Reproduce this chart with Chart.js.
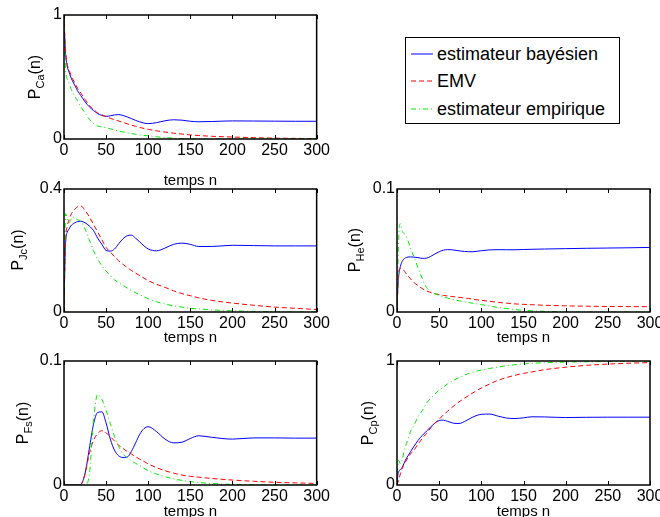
<!DOCTYPE html>
<html>
<head>
<meta charset="utf-8">
<script src="https://cdn.jsdelivr.net/npm/chart.js@4.4.0/dist/chart.umd.min.js"></script>
<style>
  html, body { margin: 0; padding: 0; background: #fff; }
  body { position: relative; width: 660px; height: 517px; overflow: hidden; font-family: "Liberation Sans", Arial, Helvetica, sans-serif; color: #000; }
  canvas { position: absolute; }
  .ylab { position: absolute; left: 0; top: 0; transform-origin: 0 0; white-space: nowrap; font-size: 16px; line-height: 16px; }
  .ylab sub { font-size: 11px; vertical-align: -4px; line-height: 0; }
  #legend { position: absolute; left: 405px; top: 37px; width: 215px; height: 87px; box-sizing: border-box; border: 1px solid #000; background: #fff; font-size: 18px; }
  #legend .row { position: absolute; left: 0; height: 20px; line-height: 20px; white-space: nowrap; }
  #legend svg { position: absolute; left: 5px; top: 9px; }
  #legend span { position: absolute; left: 31px; top: 0; }
</style>
</head>
<body>
<canvas id="ca"></canvas>
<canvas id="jc"></canvas>
<canvas id="he"></canvas>
<canvas id="fs"></canvas>
<canvas id="cp"></canvas>
<div id="legend"></div>
<script>
// temps n (shared x grid)
const nTemps = [0, 1, 2, 4, 6, 8, 10, 13, 16, 20, 25, 30, 35, 40, 45, 50, 55, 60, 65, 70, 75, 80, 85, 90, 95, 100, 110, 120, 130, 140, 150, 160, 175, 200, 225, 250, 275, 300];

const seriesNames = ["estimateur bayésien", "EMV", "estimateur empirique"];

// P_Ca(n)
const caBayes = [1, 0.80, 0.68, 0.58, 0.54, 0.50, 0.47, 0.43, 0.39, 0.35, 0.30, 0.26, 0.23, 0.205, 0.19, 0.183, 0.187, 0.194, 0.197, 0.19, 0.178, 0.165, 0.15, 0.138, 0.128, 0.124, 0.132, 0.147, 0.155, 0.152, 0.143, 0.139, 0.141, 0.146, 0.145, 0.144, 0.143, 0.143];
const caEmv = [1, 0.82, 0.70, 0.60, 0.56, 0.52, 0.49, 0.45, 0.41, 0.37, 0.32, 0.27, 0.24, 0.21, 0.195, 0.18, 0.167, 0.155, 0.145, 0.134, 0.123, 0.112, 0.102, 0.093, 0.085, 0.078, 0.066, 0.056, 0.047, 0.040, 0.033, 0.028, 0.022, 0.016, 0.011, 0.007, 0.005, 0.003];
const caEmp = [1, 0.70, 0.55, 0.48, 0.45, 0.41, 0.38, 0.34, 0.31, 0.26, 0.21, 0.16, 0.125, 0.105, 0.097, 0.09, 0.082, 0.073, 0.064, 0.057, 0.05, 0.044, 0.038, 0.033, 0.029, 0.025, 0.018, 0.012, 0.007, 0.004, 0.002, 0.001, 0, 0, 0, 0, 0, 0];

// P_Jc(n)
const jcBayes = [0, 0.15, 0.23, 0.26, 0.27, 0.28, 0.285, 0.29, 0.294, 0.295, 0.29, 0.28, 0.265, 0.24, 0.22, 0.20, 0.198, 0.205, 0.222, 0.238, 0.248, 0.25, 0.24, 0.228, 0.215, 0.205, 0.199, 0.208, 0.22, 0.224, 0.22, 0.213, 0.213, 0.217, 0.216, 0.215, 0.215, 0.215];
const jcEmv = [0, 0.15, 0.24, 0.28, 0.30, 0.315, 0.325, 0.335, 0.342, 0.345, 0.33, 0.31, 0.285, 0.26, 0.235, 0.21, 0.195, 0.18, 0.166, 0.155, 0.145, 0.135, 0.127, 0.118, 0.11, 0.102, 0.09, 0.08, 0.069, 0.06, 0.053, 0.046, 0.038, 0.029, 0.022, 0.016, 0.012, 0.008];
const jcEmp = [0, 0.22, 0.32, 0.30, 0.29, 0.30, 0.31, 0.305, 0.30, 0.295, 0.27, 0.235, 0.20, 0.172, 0.15, 0.133, 0.118, 0.105, 0.095, 0.087, 0.078, 0.07, 0.063, 0.056, 0.05, 0.043, 0.033, 0.026, 0.02, 0.016, 0.012, 0.01, 0.007, 0.004, 0.002, 0.001, 0, 0];

// P_He(n)
const heBayes = [0, 0.02, 0.029, 0.037, 0.041, 0.043, 0.044, 0.0447, 0.0448, 0.0446, 0.0442, 0.0436, 0.0438, 0.0452, 0.0472, 0.049, 0.0503, 0.0507, 0.0506, 0.0501, 0.0496, 0.0492, 0.049, 0.049, 0.0494, 0.0498, 0.0505, 0.0507, 0.0506, 0.0506, 0.0508, 0.051, 0.0512, 0.0515, 0.0518, 0.052, 0.0522, 0.0525];
const heEmv = [0, 0.02, 0.033, 0.0355, 0.0352, 0.034, 0.032, 0.0295, 0.027, 0.024, 0.0215, 0.019, 0.0172, 0.0158, 0.0148, 0.0142, 0.0135, 0.013, 0.0126, 0.0122, 0.0118, 0.0114, 0.011, 0.0104, 0.0099, 0.0095, 0.0087, 0.0078, 0.0072, 0.0066, 0.0062, 0.0059, 0.0055, 0.005, 0.0047, 0.0045, 0.0044, 0.0043];
const heEmp = [0, 0.035, 0.06, 0.072, 0.066, 0.064, 0.063, 0.058, 0.052, 0.045, 0.036, 0.027, 0.02, 0.0165, 0.0148, 0.0135, 0.0124, 0.0113, 0.0104, 0.0096, 0.0089, 0.0084, 0.0077, 0.0071, 0.0065, 0.006, 0.0048, 0.0037, 0.0028, 0.002, 0.0014, 0.001, 0.0005, 0.0002, 0, 0, 0, 0];

// P_Fs(n)
const fsBayes = [0, 0, 0, 0, 0, 0, 0, 0, 0, 0.0005, 0.0094, 0.029, 0.049, 0.0585, 0.059, 0.05, 0.037, 0.028, 0.0235, 0.0222, 0.0225, 0.027, 0.034, 0.041, 0.0455, 0.047, 0.043, 0.037, 0.034, 0.0345, 0.0375, 0.0397, 0.0385, 0.037, 0.038, 0.038, 0.0378, 0.0378];
const fsEmv = [0, 0, 0, 0, 0, 0, 0, 0, 0, 0.0005, 0.009, 0.025, 0.036, 0.0415, 0.0438, 0.042, 0.039, 0.0355, 0.032, 0.0295, 0.027, 0.025, 0.0228, 0.0208, 0.019, 0.017, 0.014, 0.0115, 0.0096, 0.008, 0.007, 0.0063, 0.0053, 0.004, 0.003, 0.0022, 0.0017, 0.0013];
const fsEmp = [0, 0, 0, 0, 0, 0, 0, 0, 0, 0, 0, 0.008, 0.052, 0.073, 0.069, 0.06, 0.0496, 0.039, 0.031, 0.025, 0.022, 0.0195, 0.0175, 0.0155, 0.0135, 0.0115, 0.0088, 0.0067, 0.005, 0.0037, 0.0028, 0.002, 0.0012, 0.0005, 0.0002, 0, 0, 0];

// P_Cp(n)
const cpBayes = [0, 0.08, 0.107, 0.125, 0.14, 0.17, 0.2, 0.235, 0.268, 0.31, 0.36, 0.40, 0.435, 0.468, 0.50, 0.52, 0.523, 0.513, 0.502, 0.496, 0.497, 0.512, 0.53, 0.548, 0.562, 0.57, 0.572, 0.555, 0.54, 0.536, 0.542, 0.55, 0.549, 0.544, 0.546, 0.547, 0.547, 0.547];
const cpEmv = [0, 0.02, 0.04, 0.09, 0.13, 0.16, 0.185, 0.22, 0.25, 0.28, 0.33, 0.375, 0.415, 0.46, 0.5, 0.53, 0.565, 0.595, 0.625, 0.652, 0.677, 0.7, 0.722, 0.743, 0.763, 0.782, 0.815, 0.845, 0.867, 0.885, 0.9, 0.912, 0.93, 0.95, 0.965, 0.975, 0.982, 0.987];
const cpEmp = [0, 0.15, 0.2, 0.17, 0.2, 0.26, 0.31, 0.37, 0.43, 0.48, 0.55, 0.6, 0.66, 0.7, 0.735, 0.765, 0.79, 0.815, 0.835, 0.855, 0.87, 0.885, 0.9, 0.91, 0.92, 0.927, 0.94, 0.952, 0.962, 0.97, 0.976, 0.981, 0.986, 0.991, 0.994, 0.996, 0.997, 0.998];

const xTicks = [0, 50, 100, 150, 200, 250, 300];

const colors = ["rgb(0,0,255)", "rgb(255,0,0)", "rgb(0,235,0)"];
const dashes = [[], [5, 3], [5, 3, 1, 3]];

Chart.defaults.font.family = '"Liberation Sans", Arial, Helvetica, sans-serif';
Chart.defaults.font.size = 16;
Chart.defaults.color = "#000";

// box + inward tick marks, matlab style
const framePlugin = {
  id: "frame",
  afterDatasetsDraw(chart) {
    const { ctx, chartArea: a } = chart;
    const xs = chart.scales.x;
    ctx.save();
    ctx.strokeStyle = "#000";
    ctx.lineWidth = 1.5;
    ctx.strokeRect(a.left, a.top, a.right - a.left, a.bottom - a.top);
    ctx.lineWidth = 1;
    ctx.beginPath();
    xs.ticks.forEach(t => {
      const px = Math.round(xs.getPixelForValue(t.value)) + 0.5;
      ctx.moveTo(px, a.bottom);
      ctx.lineTo(px, a.bottom - 4);
      ctx.moveTo(px, a.top);
      ctx.lineTo(px, a.top + 4);
    });
    ctx.stroke();
    ctx.restore();
  }
};

function pts(arr) {
  return nTemps.map((v, i) => ({ x: v, y: arr[i] }));
}

function panel(p) {
  const cv = document.getElementById(p.id);
  const h = 12 + p.plotH + p.xh;
  cv.width = p.cw;
  cv.height = h;
  cv.style.left = p.cl + "px";
  cv.style.top = p.ct + "px";

  new Chart(cv.getContext("2d"), {
    type: "line",
    data: {
      datasets: p.series.map((s, i) => ({
        label: seriesNames[i],
        data: pts(s),
        borderColor: colors[i],
        borderWidth: 1,
        borderDash: dashes[i],
        pointRadius: 0,
        fill: false,
        cubicInterpolationMode: "monotone",
        order: 3 - i
      }))
    },
    options: {
      responsive: false,
      animation: false,
      layout: { padding: { top: 12, right: p.cw - 317, left: 0, bottom: 0 } },
      plugins: { legend: { display: false }, tooltip: { enabled: false } },
      scales: {
        x: {
          type: "linear",
          min: 0,
          max: 300,
          afterBuildTicks: s => { s.ticks = xTicks.map(v => ({ value: v })); },
          ticks: { padding: 2, maxRotation: 0, autoSkip: false },
          grid: { display: false, drawTicks: false },
          border: { display: false },
          title: { display: true, text: "temps n", padding: 0, font: { size: 15 } },
          afterFit: s => { s.height = p.xh; }
        },
        y: {
          min: 0,
          max: p.yMax,
          afterBuildTicks: s => { s.ticks = [{ value: 0 }, { value: p.yMax }]; },
          ticks: { padding: 2, callback: v => (v === 0 ? "0" : p.yLabel) },
          grid: { display: false, drawTicks: false },
          border: { display: false },
          afterFit: s => { s.width = 64; }
        }
      }
    },
    plugins: [framePlugin]
  });

  const lab = document.createElement("div");
  lab.className = "ylab";
  lab.innerHTML = "P<sub>" + p.sub + "</sub>(n)";
  lab.style.transform = "translate(" + (p.labX - 13.5) + "px," + p.labY + "px) rotate(-90deg) translate(-50%,0)";
  document.body.appendChild(lab);
}

panel({ id: "ca", cl: 0, ct: 3, cw: 332, plotH: 124, xh: 51, yMax: 1, yLabel: "1", sub: "Ca", labX: 40, labY: 77, series: [caBayes, caEmv, caEmp] });
panel({ id: "jc", cl: 0, ct: 177, cw: 332, plotH: 123, xh: 35, yMax: 0.4, yLabel: "0.4", sub: "Jc", labX: 23, labY: 250, series: [jcBayes, jcEmv, jcEmp] });
panel({ id: "he", cl: 333, ct: 177, cw: 340, plotH: 123, xh: 35, yMax: 0.1, yLabel: "0.1", sub: "He", labX: 360, labY: 250, series: [heBayes, heEmv, heEmp] });
panel({ id: "fs", cl: 0, ct: 349, cw: 332, plotH: 124, xh: 36, yMax: 0.1, yLabel: "0.1", sub: "Fs", labX: 28, labY: 423, series: [fsBayes, fsEmv, fsEmp] });
panel({ id: "cp", cl: 333, ct: 349, cw: 340, plotH: 124, xh: 36, yMax: 1, yLabel: "1", sub: "Cp", labX: 373, labY: 423, series: [cpBayes, cpEmv, cpEmp] });

// legend
const legend = document.getElementById("legend");
const rowTops = [6, 33, 61];
seriesNames.forEach((name, i) => {
  const row = document.createElement("div");
  row.className = "row";
  row.style.top = rowTops[i] + "px";
  row.innerHTML =
    '<svg width="22" height="2"><line x1="0" y1="1" x2="22" y2="1" stroke="' + colors[i] +
    '" stroke-width="1" stroke-dasharray="' + (dashes[i].length ? dashes[i].join(",") : "none") + '"/></svg>' +
    "<span>" + name + "</span>";
  legend.appendChild(row);
});
</script>
</body>
</html>
